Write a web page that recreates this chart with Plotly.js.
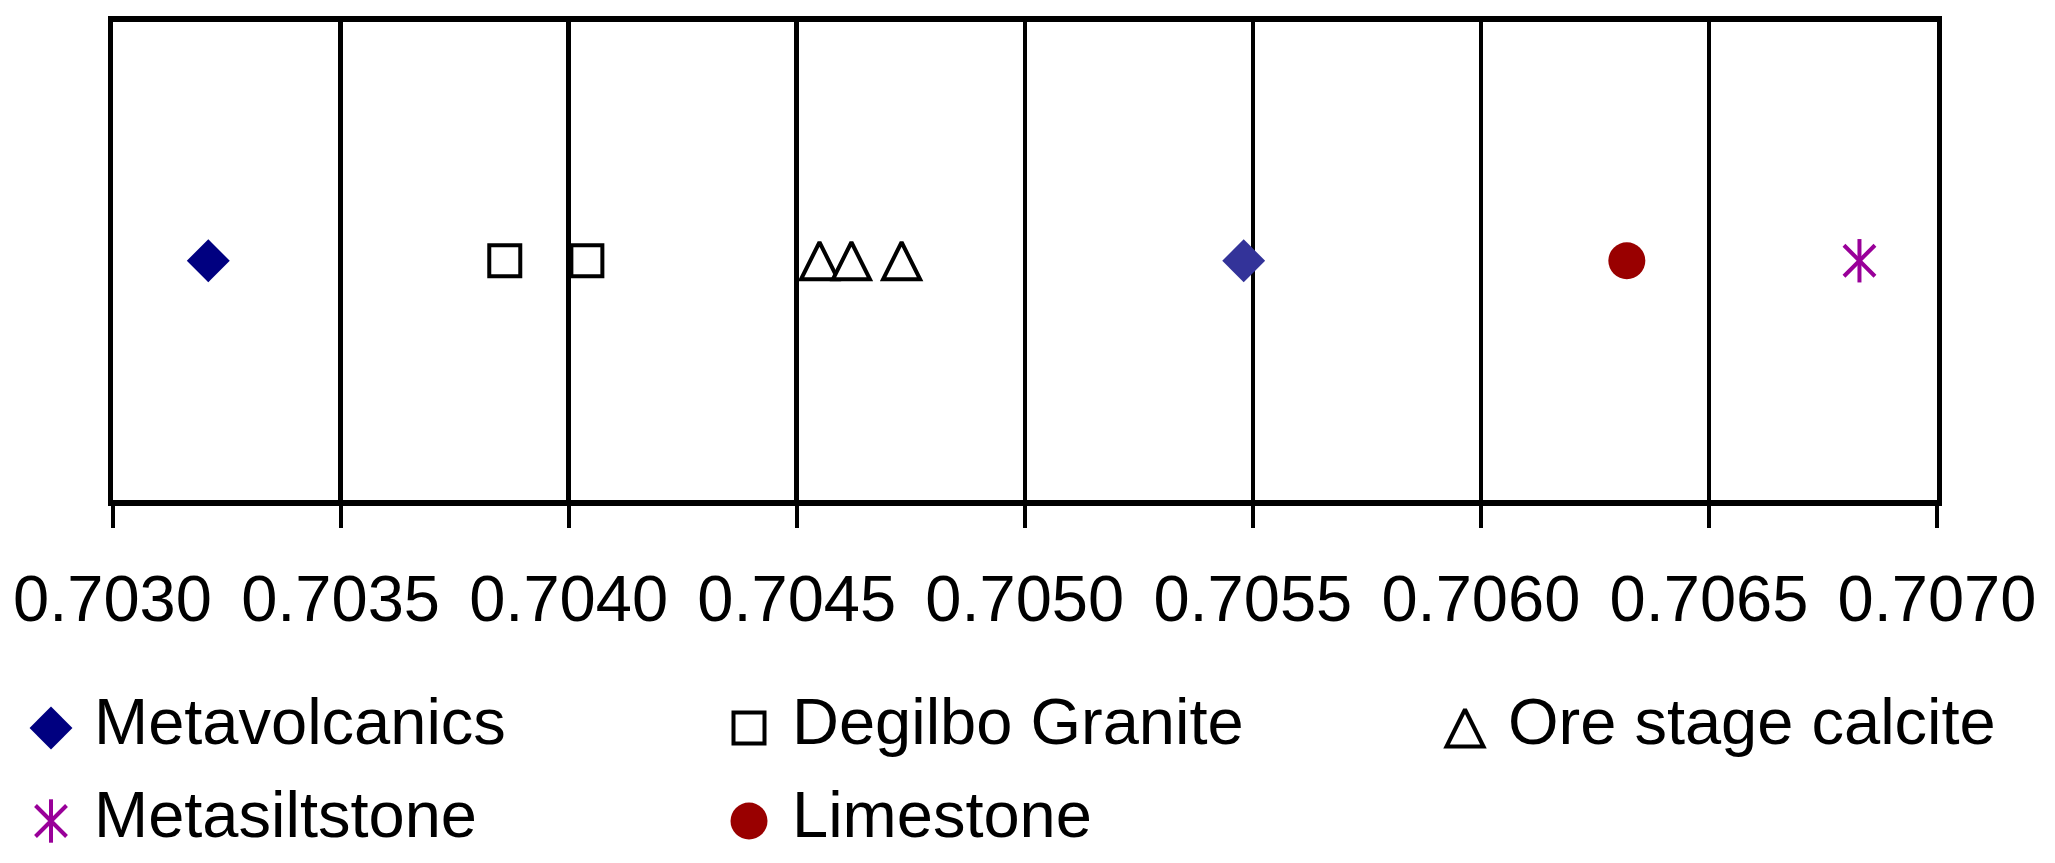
<!DOCTYPE html>
<html>
<head>
<meta charset="utf-8">
<script src="https://cdn.plot.ly/plotly-3.0.1.min.js"></script>
<style>
  html, body { margin: 0; padding: 0; background: #ffffff; }
  #chart { width: 2055px; height: 863px; }
</style>
</head>
<body>
<div id="chart"></div>
<script>
// ---------------- data ----------------
const seriesNames = ['Metavolcanics', 'Degilbo Granite', 'Ore stage calcite', 'Metasiltstone', 'Limestone'];
const metavolcanics   = [0.70321, 0.70548];
const degilboGranite  = [0.70386, 0.70404];
const oreStageCalcite = [0.70455, 0.70462, 0.70473];
const metasiltstone   = [0.70683];
const limestone       = [0.70632];
const tickValues = [0.7030, 0.7035, 0.7040, 0.7045, 0.7050, 0.7055, 0.7060, 0.7065, 0.7070];
const tickLabels = ['0.7030', '0.7035', '0.7040', '0.7045', '0.7050', '0.7055', '0.7060', '0.7065', '0.7070'];
const rowLevel = 0.5;   // all samples plotted on one horizontal row

// ---------------- styles ----------------
const FONT = 'Liberation Sans, Arial, Helvetica, sans-serif';
const seriesValues = [metavolcanics, degilboGranite, oreStageCalcite, metasiltstone, limestone];
const markerStyles = [
  [{ symbol: 'diamond', size: 33, color: ['#000080', '#333399'], legendColor: '#000080', line: { width: 0 } }],
  [{ symbol: 'square', size: 31, color: '#ffffff', line: { color: '#000000', width: 4 } }],
  [{ symbol: 'arrow-down', angle: 180, standoff: 18.5, size: 37, color: '#ffffff', line: { color: '#000000', width: 4 } }],
  [{ symbol: 'x-thin-open', size: 31, color: '#990099', line: { color: '#990099', width: 4 } },
   { symbol: 'line-ns-open', size: 31, color: '#990099', line: { color: '#990099', width: 4 } }],
  [{ symbol: 'circle', size: 37, color: '#990000', line: { width: 0 } }]
];

function markerFor(st, legendVersion) {
  const m = {
    symbol: st.symbol, size: st.size,
    color: legendVersion && st.legendColor ? st.legendColor : st.color,
    line: st.line
  };
  if (st.angle !== undefined) m.angle = st.angle;
  if (st.standoff !== undefined) m.standoff = st.standoff;
  return m;
}

const traces = [];

// data traces
seriesValues.forEach(function (vals, i) {
  markerStyles[i].forEach(function (st) {
    traces.push({
      type: 'scatter', mode: 'markers', name: seriesNames[i], showlegend: false,
      x: vals, y: vals.map(function () { return rowLevel; }),
      xaxis: 'x', yaxis: 'y', cliponaxis: false, hoverinfo: 'x+name',
      marker: markerFor(st, false)
    });
  });
});

// legend (drawn on a hidden pixel-scaled pair of axes, 3 columns x 2 rows)
const legendColumnX = [51, 749, 1465];   // symbol centres, px from left
const legendRowY = [728, 821];           // symbol centres, px from top
const legendTextGap = 43;                // px between symbol centre and label anchor
seriesNames.forEach(function (name, i) {
  const col = i % legendColumnX.length;
  const row = Math.floor(i / legendColumnX.length);
  markerStyles[i].forEach(function (st) {
    traces.push({
      type: 'scatter', mode: 'markers', showlegend: false, hoverinfo: 'skip',
      x: [legendColumnX[col]], y: [legendRowY[row]], xaxis: 'x2', yaxis: 'y2', cliponaxis: false,
      marker: markerFor(st, true)
    });
  });
  traces.push({
    type: 'scatter', mode: 'text', showlegend: false, hoverinfo: 'skip',
    x: [legendColumnX[col] + legendTextGap], y: [legendRowY[row]], xaxis: 'x2', yaxis: 'y2', cliponaxis: false,
    text: [name], textposition: 'middle right',
    textfont: { family: FONT, size: 65, color: '#000000' }
  });
});

const W = 2055, H = 863;
const layout = {
  width: W, height: H,
  margin: { l: 0, r: 0, t: 0, b: 0, pad: 0 },
  paper_bgcolor: '#ffffff', plot_bgcolor: 'rgba(0,0,0,0)',
  showlegend: false,
  font: { family: FONT, color: '#000000', size: 65 },
  xaxis: {
    domain: [112.5 / W, 1937 / W], range: [0.7030, 0.7070],
    tickmode: 'array', tickvals: tickValues, ticktext: tickLabels,
    ticks: 'outside', ticklen: 22, tickwidth: 4, tickcolor: '#000000',
    showline: true, linewidth: 6, linecolor: '#000000', mirror: true,
    showgrid: true, gridcolor: '#000000', gridwidth: 4.5, zeroline: false,
    tickfont: { family: FONT, size: 65, color: '#000000' },
    ticklabelstandoff: 15, fixedrange: true
  },
  yaxis: {
    domain: [1 - 500 / H, 1 - 21.5 / H], range: [0, 1],
    showline: true, linewidth: 5, linecolor: '#000000', mirror: true,
    showgrid: false, zeroline: false, showticklabels: false, ticks: '', fixedrange: true
  },
  xaxis2: { domain: [0, 1], anchor: 'y2', range: [0, W], visible: false, fixedrange: true },
  yaxis2: { domain: [0, 1], anchor: 'x2', range: [H, 0], visible: false, fixedrange: true }
};

Plotly.newPlot('chart', traces, layout, { displayModeBar: false, staticPlot: true });
</script>
</body>
</html>
